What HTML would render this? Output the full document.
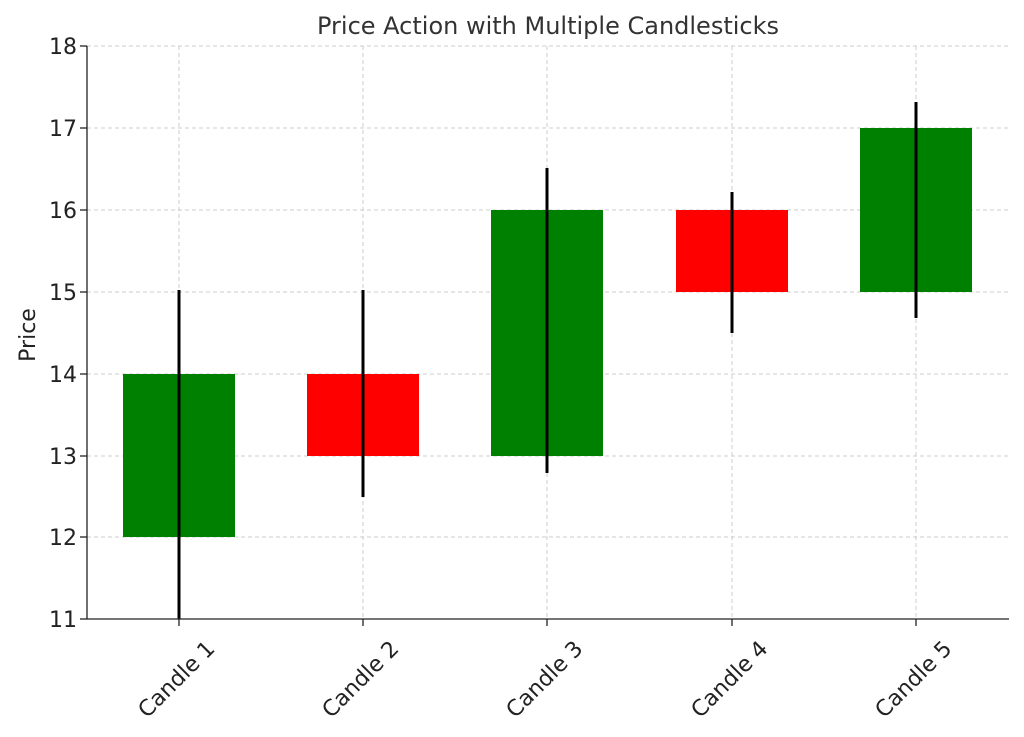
<!DOCTYPE html>
<html><head><meta charset="utf-8"><style>html,body{margin:0;padding:0;background:#fff}svg{display:block}</style></head>
<body>
<svg width="1024" height="737" xmlns="http://www.w3.org/2000/svg" font-family="DejaVu Sans, Liberation Sans, sans-serif">
<rect width="1024" height="737" fill="#fff"/>
<g stroke="#ccc" stroke-width="1" stroke-dasharray="4,3">
<line x1="87" x2="1009" y1="46" y2="46"/>
<line x1="87" x2="1009" y1="128" y2="128"/>
<line x1="87" x2="1009" y1="210" y2="210"/>
<line x1="87" x2="1009" y1="292" y2="292"/>
<line x1="87" x2="1009" y1="374" y2="374"/>
<line x1="87" x2="1009" y1="456" y2="456"/>
<line x1="87" x2="1009" y1="537" y2="537"/>
<line y1="46" y2="619" x1="179" x2="179"/>
<line y1="46" y2="619" x1="363" x2="363"/>
<line y1="46" y2="619" x1="547" x2="547"/>
<line y1="46" y2="619" x1="732" x2="732"/>
<line y1="46" y2="619" x1="916" x2="916"/>
</g>
<rect x="123" y="374" width="112" height="163" fill="#008000"/>
<rect x="307" y="374" width="112" height="82" fill="#ff0000"/>
<rect x="491" y="210" width="112" height="246" fill="#008000"/>
<rect x="676" y="210" width="112" height="82" fill="#ff0000"/>
<rect x="860" y="128" width="112" height="164" fill="#008000"/>
<g stroke="#000" stroke-width="3">
<line x1="179" x2="179" y1="290" y2="619"/>
<line x1="363" x2="363" y1="290" y2="497"/>
<line x1="547" x2="547" y1="168" y2="473"/>
<line x1="732" x2="732" y1="192" y2="333"/>
<line x1="916" x2="916" y1="102" y2="318"/>
</g>
<g stroke="#222" stroke-width="1.3">
<line x1="87" x2="87" y1="46" y2="619"/>
<line x1="87" x2="1009" y1="619" y2="619"/>
<line x1="80" x2="87" y1="46" y2="46"/><line x1="80" x2="87" y1="128" y2="128"/><line x1="80" x2="87" y1="210" y2="210"/><line x1="80" x2="87" y1="292" y2="292"/><line x1="80" x2="87" y1="374" y2="374"/><line x1="80" x2="87" y1="456" y2="456"/><line x1="80" x2="87" y1="537" y2="537"/><line x1="80" x2="87" y1="619" y2="619"/>
<line x1="179" x2="179" y1="619" y2="626"/><line x1="363" x2="363" y1="619" y2="626"/><line x1="547" x2="547" y1="619" y2="626"/><line x1="732" x2="732" y1="619" y2="626"/><line x1="916" x2="916" y1="619" y2="626"/>
</g>
<g font-size="22" fill="#222" text-anchor="end">
<text x="77" y="54">18</text><text x="77" y="136">17</text><text x="77" y="218">16</text><text x="77" y="300">15</text><text x="77" y="382">14</text><text x="77" y="464">13</text><text x="77" y="545">12</text><text x="77" y="627">11</text>
</g>
<g font-size="22" fill="#222" text-anchor="end">
<text transform="translate(216,650) rotate(-45)">Candle 1</text>
<text transform="translate(400,650) rotate(-45)">Candle 2</text>
<text transform="translate(584,650) rotate(-45)">Candle 3</text>
<text transform="translate(769,650) rotate(-45)">Candle 4</text>
<text transform="translate(953,650) rotate(-45)">Candle 5</text>
</g>
<text x="548" y="34" font-size="24" fill="#333" text-anchor="middle">Price Action with Multiple Candlesticks</text>
<text transform="translate(35,335) rotate(-90)" font-size="22" fill="#222" text-anchor="middle">Price</text>
</svg>
</body></html>
